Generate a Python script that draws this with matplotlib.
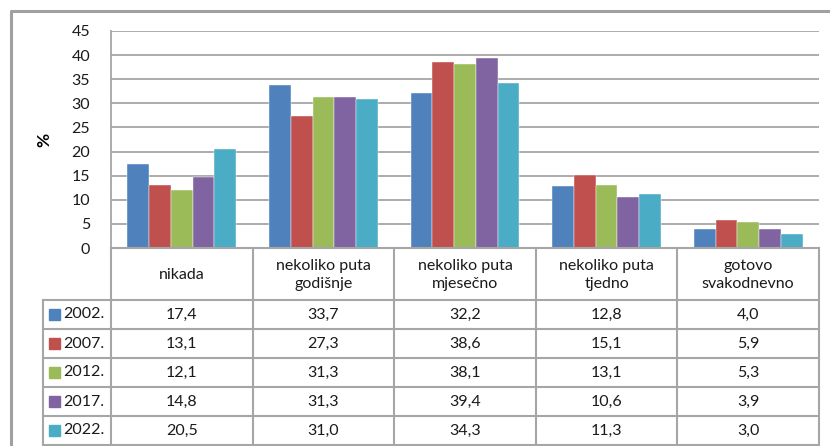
import numpy as np
import matplotlib.pyplot as plt
from matplotlib.lines import Line2D
from matplotlib.patches import Rectangle

categories = ["nikada", "nekoliko puta\ngodišnje", "nekoliko puta\nmjesečno",
              "nekoliko puta\ntjedno", "gotovo\nsvakodnevno"]
years = ["2002.", "2007.", "2012.", "2017.", "2022."]
v2002 = [17.4, 33.7, 32.2, 12.8, 4.0]
v2007 = [13.1, 27.3, 38.6, 15.1, 5.9]
v2012 = [12.1, 31.3, 38.1, 13.1, 5.3]
v2017 = [14.8, 31.3, 39.4, 10.6, 3.9]
v2022 = [20.5, 31.0, 34.3, 11.3, 3.0]
series = [v2002, v2007, v2012, v2017, v2022]
colors = ["#4F81BD", "#C0504D", "#9BBB59", "#8064A2", "#4BACC6"]

plt.rcParams['font.family'] = ['Lato', 'DejaVu Sans']
W, H = 830, 446
fig = plt.figure(figsize=(W / 100, H / 100), dpi=100)

def fx(x):
    return x / W

def fy(y):
    return 1 - y / H

grid_c = "#A6A6A6"
fs = 11.5

# plot area in pixels
left, right, top, bottom = 111, 819, 31, 248
ax = fig.add_axes([fx(left), fy(bottom), fx(right - left), (bottom - top) / H])

n = len(series)
bw = 1 / 6.5
x = np.arange(len(categories))
for i, vals in enumerate(series):
    ax.bar(x + (i - (n - 1) / 2) * bw, vals, width=bw, color=colors[i],
           edgecolor="white", linewidth=0.3, zorder=3, label=years[i])

ax.set_xlim(-0.5, len(categories) - 0.5)
ax.set_ylim(0, 45)
ax.set_yticks(range(0, 46, 5))
ax.tick_params(axis='y', length=0, labelsize=fs, pad=15, colors="#1a1a1a")
ax.set_xticks([])
ax.yaxis.grid(True, color=grid_c, linewidth=1.3, zorder=0)
for s in ["top", "right", "bottom"]:
    ax.spines[s].set_visible(False)
ax.spines["left"].set_color(grid_c)
ax.spines["left"].set_linewidth(1.3)
ax.set_ylabel("%", fontsize=fs + 1, fontweight="bold", labelpad=14)

# data table below the chart
col_edges = np.linspace(left, right, len(categories) + 1)
row_edges = [248, 300, 329, 358, 387, 416, 445]
lab_left = 43

def line(x0, y0, x1, y1):
    fig.add_artist(Line2D([fx(x0), fx(x1)], [fy(y0), fy(y1)], color=grid_c,
                          linewidth=1.5, transform=fig.transFigure))

# horizontal lines
line(left, row_edges[0], right, row_edges[0])
for y in row_edges[1:]:
    line(lab_left, y, right, y)
# vertical lines
for xe in col_edges:
    line(xe, row_edges[0], xe, row_edges[-1])
line(lab_left, row_edges[1], lab_left, row_edges[-1])

# header
for j, cat in enumerate(categories):
    cx = (col_edges[j] + col_edges[j + 1]) / 2
    cy = (row_edges[0] + row_edges[1]) / 2 + 1
    fig.text(fx(cx), fy(cy), cat, ha="center", va="center", fontsize=fs,
             linespacing=1.35, color="#1a1a1a")

# rows
for i, vals in enumerate(series):
    cy = (row_edges[i + 1] + row_edges[i + 2]) / 2
    fig.add_artist(Rectangle((fx(49), fy(cy + 5.5)), fx(11), 11 / H,
                             color=colors[i], transform=fig.transFigure))
    fig.text(fx(63), fy(cy), years[i], ha="left", va="center", fontsize=fs,
             color="#1a1a1a")
    for j, v in enumerate(vals):
        cx = (col_edges[j] + col_edges[j + 1]) / 2
        fig.text(fx(cx), fy(cy), f"{v:.1f}".replace(".", ","), ha="center",
                 va="center", fontsize=fs, color="#1a1a1a")

# outer chart border
fig.add_artist(Line2D([fx(11), fx(11), fx(835)], [fy(450), fy(11), fy(11)],
                      color="#A0A0A0", linewidth=2.2, transform=fig.transFigure))

fig.savefig("out.png", dpi=100)
